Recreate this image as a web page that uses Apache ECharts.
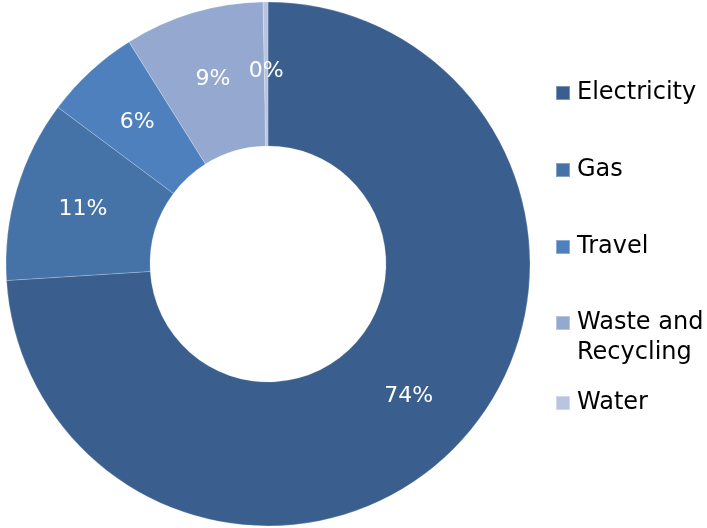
<!DOCTYPE html>
<html>
<head>
<meta charset="utf-8">
<script src="https://cdn.jsdelivr.net/npm/echarts@6/dist/echarts.min.js"></script>
<style>
    html, body { margin: 0; padding: 0; background: #fff; }
    #pieChart { width: 707px; height: 528px; }
</style>
</head>
<body>
<div id="pieChart"></div>
<script>
    // share of footprint per source (%)
    var categories = ['Electricity', 'Gas', 'Travel', 'Waste and Recycling', 'Water'];
    var values = [74.0, 11.2, 5.9, 8.6, 0.3];
    var colors = ['#3a5f8e', '#4572a7', '#4e80bd', '#95a9d0', '#b9c5e0'];

    var labelFont = 'DejaVu Sans, Verdana, sans-serif';

    // one legend per entry so the rows sit where the original puts them
    var legendTops = [78, 155, 232, 278, 388];
    function makeLegend(name, top) {
        return {
            orient: 'vertical',
            left: 555,
            top: top,
            padding: 0,
            itemWidth: 14,
            itemHeight: 14,
            icon: 'rect',
            data: [name],
            formatter: function (n) {
                // blank first line keeps the square level with "Waste and"
                return n === 'Waste and Recycling' ? ' \nWaste and\nRecycling' : n;
            },
            textStyle: {
                fontFamily: labelFont,
                fontSize: 24,
                color: '#000',
                lineHeight: 30,
                padding: [0, 0, 0, 2]
            }
        };
    }

    var pieData = [];
    for (var i = 0; i < categories.length; i++) {
        pieData.push({
            name: categories[i],
            value: values[i],
            itemStyle: { color: colors[i] }
        });
    }

    var chart = echarts.init(document.getElementById('pieChart'));
    chart.setOption({
        animation: false,
        legend: categories.map(function (c, i) { return makeLegend(c, legendTops[i]); }),
        series: [
            {
                type: 'pie',
                center: [268, 264],
                radius: [118, 262],
                startAngle: 90,
                clockwise: true,
                percentPrecision: 0,
                avoidLabelOverlap: false,
                itemStyle: {
                    borderColor: 'rgba(255,255,255,0.35)',
                    borderWidth: 0.6
                },
                label: {
                    show: true,
                    position: 'inside',
                    formatter: '{d}%',
                    color: '#fff',
                    fontFamily: labelFont,
                    fontSize: 22,
                    padding: [6, 0, 0, 0]
                },
                labelLine: { show: false },
                emphasis: { disabled: true },
                data: pieData
            }
        ]
    });
</script>
</body>
</html>
